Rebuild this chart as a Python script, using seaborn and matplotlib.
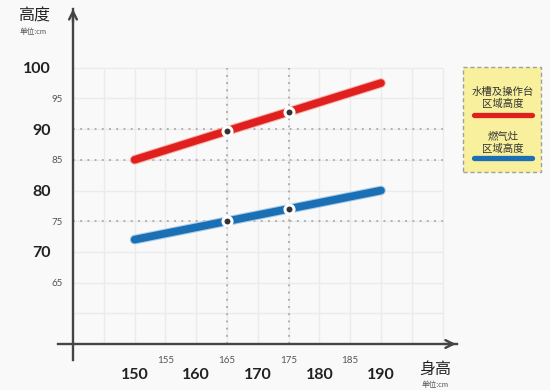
import matplotlib
matplotlib.use("Agg")
import matplotlib.pyplot as plt
import matplotlib.patheffects as pe
from matplotlib.patches import Rectangle
from matplotlib.lines import Line2D
import seaborn as sns
import pandas as pd

# ---- data ----
heights = [150, 165, 175, 190]            # body height (cm)
sink_height = [85, 89.7, 92.8, 97.5]      # sink / worktop height
stove_height = [72, 75, 77, 80]           # stove height
marked_heights = [165, 175]
sink_marked = [89.7, 92.8]
stove_marked = [75, 77]

x_ticks = [145, 150, 155, 160, 165, 170, 175, 180, 185, 190, 195]
x_labels = ['', '150', '155', '160', '165', '170', '175', '180', '185', '190', '']
y_ticks = [60, 65, 70, 75, 80, 85, 90, 95, 100]
y_labels = ['', '65', '70', '75', '80', '85', '90', '95', '100']
bold_labels = ['70', '80', '90', '100', '150', '160', '170', '180', '190']

grid_x = [145, 150, 155, 160, 165, 170, 175, 180, 185, 190, 195, 200]
grid_y = [60, 65, 70, 75, 80, 85, 90, 95, 100]
dotted_y = [75, 85, 90]
dotted_x = [165, 175]

legend_sink = '水槽及操作台\n区域高度'
legend_stove = '燃气灶\n区域高度'

sink_color = '#e0201f'
stove_color = '#1a6fb5'
axis_color = '#444444'

sns.set_style('white')
plt.rcParams['font.family'] = ['Lato', 'Noto Sans CJK SC', 'DejaVu Sans']

W, H = 550, 390
fig = plt.figure(figsize=(W / 100, H / 100), dpi=100)
fig.patch.set_facecolor('#f9f9f9')
ax = fig.add_axes([0, 0, 1, 1])
ax.set_facecolor('#f9f9f9')

# origin (140, 55) sits at pixel (73, 344); ~6.15 px per cm
px_x, px_y = 6.16, 6.14
ax.set_xlim(140 - 73 / px_x, 140 + (W - 73) / px_x)
ax.set_ylim(55 - (H - 344) / px_y, 55 + 344 / px_y)

# light grid
ax.vlines(grid_x, 55, 100, color='#ebebeb', lw=1, zorder=0)
ax.hlines(grid_y, 140, 200, color='#ebebeb', lw=1, zorder=0)
# dotted reference lines
ax.hlines(dotted_y, 140, 200, color='#a8a8a8', lw=1.3, linestyles=(0, (1, 3)), zorder=1)
ax.vlines(dotted_x, 55, 100, color='#a8a8a8', lw=1.3, linestyles=(0, (1, 3)), zorder=1)

df = pd.DataFrame({'height': heights, 'sink': sink_height, 'stove': stove_height})
for col, color, halo in [('sink', sink_color, '#f6b3ab'), ('stove', stove_color, '#a9cbe8')]:
    sns.lineplot(data=df, x='height', y=col, ax=ax, color=color, lw=5.5,
                 solid_capstyle='round', zorder=3,
                 path_effects=[pe.Stroke(linewidth=7, foreground=halo), pe.Normal()])

ax.plot(marked_heights, sink_marked, 'o', ms=6.5, mfc='#333333', mec='white', mew=2.2, zorder=4)
ax.plot(marked_heights, stove_marked, 'o', ms=6.5, mfc='#333333', mec='white', mew=2.2, zorder=4)

# axes with arrows
for s in ['top', 'right']:
    ax.spines[s].set_visible(False)
ax.spines['left'].set_position(('data', 140))
ax.spines['bottom'].set_position(('data', 55))
ax.spines['left'].set_bounds(52.4, 109.6)
ax.spines['bottom'].set_bounds(137.6, 202.3)
for s in ['left', 'bottom']:
    ax.spines[s].set_color(axis_color)
    ax.spines[s].set_linewidth(1.7)
ax.annotate('', xy=(202.6, 55), xytext=(200, 55),
            arrowprops=dict(arrowstyle='->', color=axis_color, lw=1.7, mutation_scale=14))
ax.annotate('', xy=(140, 110), xytext=(140, 107),
            arrowprops=dict(arrowstyle='->', color=axis_color, lw=1.7, mutation_scale=14))

ax.set_xticks(x_ticks)
ax.set_xticklabels(x_labels)
ax.set_yticks(y_ticks)
ax.set_yticklabels(y_labels)
ax.tick_params(axis='both', direction='out', length=6, width=1.5, color=axis_color)
ax.set_xlabel('')
ax.set_ylabel('')

for tick in ax.xaxis.get_major_ticks():
    lab = tick.label1
    if lab.get_text() in bold_labels:
        lab.set_fontsize(11.5)
        lab.set_fontweight('bold')
        lab.set_color('#222222')
        tick.set_pad(11)
    else:
        lab.set_fontsize(7)
        lab.set_color('#555555')
        tick.set_pad(2.5)
for tick in ax.yaxis.get_major_ticks():
    lab = tick.label1
    if lab.get_text() in bold_labels:
        lab.set_fontsize(11.5)
        lab.set_fontweight('bold')
        lab.set_color('#222222')
        tick.set_pad(10)
    else:
        lab.set_fontsize(7)
        lab.set_color('#555555')
        tick.set_pad(1.5)


def fx(px):
    return px / W


def fy(py):
    return 1 - py / H


# axis titles
fig.text(fx(34), fy(16), '高度', fontsize=11.5, color='#222222', ha='center', va='center')
fig.text(fx(33), fy(31), '单位:cm', fontsize=5.5, color='#555555', ha='center', va='center')
fig.text(fx(435), fy(369), '身高', fontsize=11.5, color='#222222', ha='center', va='center')
fig.text(fx(435), fy(384), '单位:cm', fontsize=5.5, color='#555555', ha='center', va='center')

# legend box
fig.patches.append(Rectangle((fx(463), fy(172)), 78 / W, 105 / H, transform=fig.transFigure,
                             facecolor='#f8f09c', edgecolor='#a0a0a0', lw=1,
                             linestyle=(0, (3, 2)), zorder=5))
fig.text(fx(503), fy(98), legend_sink, fontsize=7.5, color='#333333', ha='center', va='center',
         linespacing=1.2, zorder=6)
fig.lines.append(Line2D([fx(474), fx(532)], [fy(115), fy(115)], transform=fig.transFigure,
                        color=sink_color, lw=3.8, solid_capstyle='round', zorder=6))
fig.text(fx(503), fy(143), legend_stove, fontsize=7.5, color='#333333', ha='center', va='center',
         linespacing=1.2, zorder=6)
fig.lines.append(Line2D([fx(474), fx(532)], [fy(158), fy(158)], transform=fig.transFigure,
                        color=stove_color, lw=3.8, solid_capstyle='round', zorder=6))

fig.savefig('out.png', dpi=100, facecolor=fig.get_facecolor())
